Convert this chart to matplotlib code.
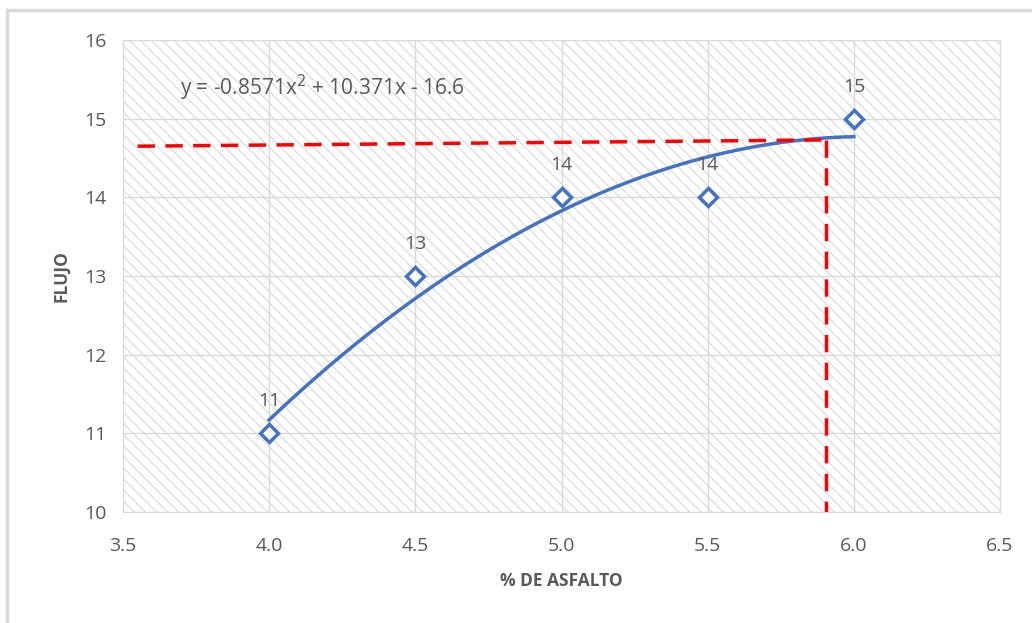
import matplotlib.pyplot as plt
import matplotlib.patches as patches
import numpy as np

plt.rcParams['font.family'] = ['Open Sans', 'DejaVu Sans']
plt.rcParams['hatch.linewidth'] = 0.9

asfalto = [4.0, 4.5, 5.0, 5.5, 6.0]
flujo = [11, 13, 14, 14, 15]
point_labels = ['11', '13', '14', '14', '15']
xticks = [3.5, 4.0, 4.5, 5.0, 5.5, 6.0, 6.5]
yticks = [10, 11, 12, 13, 14, 15, 16]

# red guide lines
guide_h_x = [3.55, 5.905]
guide_h_y = [14.65, 14.73]
guide_v_x = [5.905, 5.905]
guide_v_y = [14.73, 10.0]

grey = '#595959'
blue = '#4472C4'

fig = plt.figure(figsize=(10.32, 6.23), dpi=100)
ax = fig.add_axes([123 / 1032, 111 / 623, 877 / 1032, 472 / 623])

# hatched plot area like the Excel pattern fill
ax.add_patch(patches.Rectangle((0, 0), 1, 1, transform=ax.transAxes, facecolor='white',
                               edgecolor='#dddddd', hatch='\\\\\\', linewidth=0, zorder=0))

# chart border (top/left visible)
fig.add_artist(plt.Line2D([7 / 1032, 7 / 1032], [0, 613 / 623], color='#d9d9d9', lw=2.5))
fig.add_artist(plt.Line2D([7 / 1032, 1], [613 / 623, 613 / 623], color='#d9d9d9', lw=2.5))

# polynomial trendline, order 2
coef = np.polyfit(asfalto, flujo, 2)
xs = np.linspace(asfalto[0], asfalto[-1], 200)
ax.plot(xs, np.polyval(coef, xs), color=blue, lw=2.5, zorder=3)

ax.plot(asfalto, flujo, linestyle='none', marker='D', markersize=9, markerfacecolor='white',
        markeredgecolor=blue, markeredgewidth=2.5, zorder=5)
for x, y, t in zip(asfalto, flujo, point_labels):
    ax.annotate(t, (x, y), xytext=(0, 23), textcoords='offset points', ha='center', va='center',
                fontsize=14, color=grey)

ax.plot(guide_h_x, guide_h_y, color='#FF0000', lw=2.5, dashes=(5, 3), zorder=4)
ax.plot(guide_v_x, guide_v_y, color='#FF0000', lw=2.5, dashes=(5, 3), zorder=4)

ax.text(3.695, 15.39, 'y = -0.8571x$^2$ + 10.371x - 16.6', fontsize=15, color=grey,
        va='center', ha='left')

ax.set_xlim(3.5, 6.5)
ax.set_ylim(10, 16)
ax.set_xticks(xticks)
ax.set_xticklabels(['%.1f' % v for v in xticks])
ax.set_yticks(yticks)
ax.grid(True, color='#d9d9d9', lw=1)
ax.set_axisbelow(True)
for s in ax.spines.values():
    s.set_color('#d9d9d9')
ax.tick_params(length=0, labelsize=14, labelcolor=grey)
ax.tick_params(axis='x', pad=18)
ax.tick_params(axis='y', pad=12)
ax.set_xlabel('% DE ASFALTO', fontsize=12.5, fontweight='bold', color=grey, labelpad=12)
ax.set_ylabel('FLUJO', fontsize=12.5, fontweight='bold', color=grey, labelpad=10)

fig.savefig('out.png', dpi=100)
